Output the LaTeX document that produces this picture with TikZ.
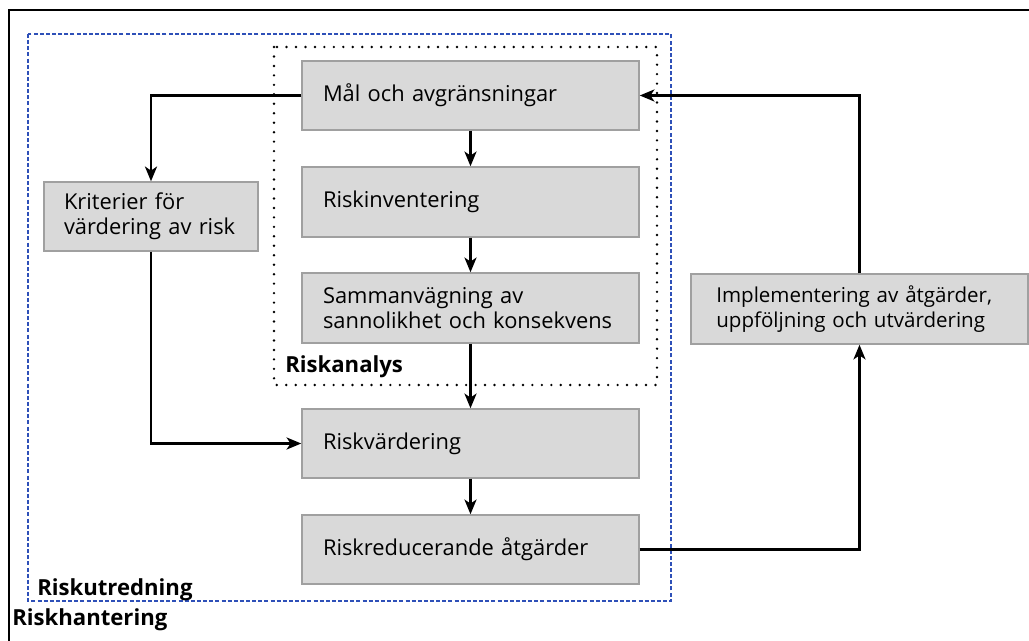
\documentclass[tikz,border=0pt]{standalone}
\usepackage{fontspec}
\setmainfont{Open Sans}
\usetikzlibrary{arrows.meta}
\hyphenpenalty=10000
\exhyphenpenalty=10000
\definecolor{boxfill}{HTML}{D9D9D9}
\definecolor{boxline}{HTML}{A0A0A0}
\definecolor{dashblue}{HTML}{2E50B8}
\tikzset{
  box/.style={draw=boxline, line width=1.1pt, fill=boxfill, rectangle,
    align=left, inner ysep=0pt, font=\fontsize{16.4}{18.8}\selectfont},
  cbox/.style={box, minimum width=252.75pt, text width=221.25pt, inner xsep=15.75pt},
  conn/.style={line width=1.9pt, -{Stealth[length=11pt,width=9pt,inset=3pt]}},
  grouplabel/.style={anchor=base west, inner sep=0pt, font=\fontsize{16.6}{19}\selectfont\bfseries}
}
\begin{document}
\begin{tikzpicture}[x=0.75pt,y=-0.75pt]
\useasboundingbox (0,0) rectangle (1029,641);
% outer frame (Riskhantering)
\draw[line width=2.2pt] (9,641) -- (9,10) -- (1029,10);
% Riskutredning frame
\draw[dashblue, line width=1.9pt, dash pattern=on 3pt off 1.6pt] (28,34) rectangle (671,601);
% Riskanalys frame
\draw[line width=2pt, line cap=round, dash pattern=on 0pt off 7.1pt] (274,47) rectangle (657,385);

\node[cbox, minimum height=51.75pt] (mal) at (470.5,95.5) {Mål och avgränsningar};
\node[cbox, minimum height=52.5pt] (inv) at (470.5,202) {Riskinventering};
\node[cbox, minimum height=52.5pt] (sam) at (470.5,308) {Sammanvägning av\\sannolikhet och konsekvens};
\node[cbox, minimum height=51.75pt] (rv) at (470.5,443.5) {Riskvärdering};
\node[cbox, minimum height=51.75pt] (rr) at (470.5,549.5) {Riskreducerande åtgärder};
\node[box, minimum width=160.5pt, text width=130.5pt, inner xsep=15pt, minimum height=51.75pt] (krit) at (151,216.5) {Kriterier för\\värdering av risk};
\node[box, font=\fontsize{15.4}{18.8}\selectfont, minimum width=252.75pt, text width=222.75pt, inner xsep=15pt, minimum height=52.5pt] (impl) at (859.5,309) {\hspace*{4pt}Implementering av åtgärder,\\\hspace*{4pt}uppföljning och utvärdering};

\node[grouplabel] (lra) at (285,373) {Riskanalys};
\node[grouplabel] (lru) at (37,595) {Riskutredning};
\node[grouplabel] (lrh) at (12,625) {Riskhantering};

\draw[conn] (mal) -- (inv);
\draw[conn] (inv) -- (sam);
\draw[conn] (sam) -- (rv);
\draw[conn] (rv) -- (rr);
\draw[conn] (mal.west) -| (krit.north);
\draw[conn] (krit.south) |- (rv.west);
\draw[conn] (rr.east) -| (impl.south);
\draw[conn] (impl.north) |- (mal.east);
\end{tikzpicture}
\end{document}
